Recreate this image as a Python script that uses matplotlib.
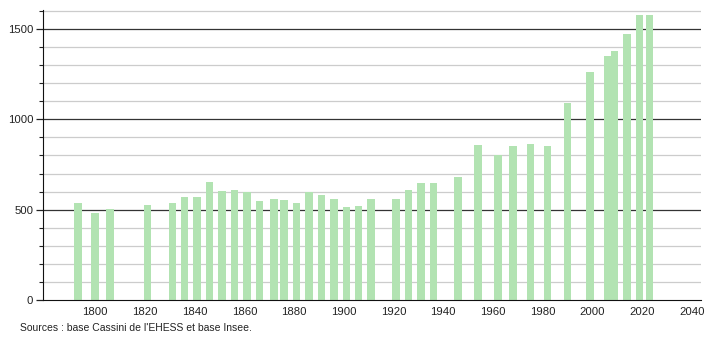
import matplotlib.pyplot as plt
from matplotlib.ticker import MultipleLocator

plt.rcParams['font.family'] = ['Liberation Sans', 'DejaVu Sans']

# Années de recensement et population
annees = [1793, 1800, 1806, 1821, 1831, 1836, 1841, 1846, 1851, 1856,
          1861, 1866, 1872, 1876, 1881, 1886, 1891, 1896, 1901, 1906,
          1911, 1921, 1926, 1931, 1936, 1946, 1954, 1962, 1968, 1975,
          1982, 1990, 1999, 2006, 2009, 2014, 2019, 2023]
population = [538, 483, 505, 526, 537, 572, 570, 653, 603, 610,
              599, 550, 557, 555, 539, 598, 581, 559, 515, 520,
              557, 559, 609, 646, 649, 681, 858, 801, 852, 863,
              852, 1088, 1263, 1350, 1378, 1472, 1577, 1577]

x_ticks = list(range(1800, 2041, 20))
source = "Sources : base Cassini de l'EHESS et base Insee."

fig = plt.figure(figsize=(7.1, 3.4), dpi=100)
ax = fig.add_axes([0.0606, 0.1176, 0.9264, 0.853])

ax.bar(annees, population, width=3.0, color='#b2e3b2', zorder=3)

ax.set_xlim(1779, 2043.6)
ax.set_ylim(0, 1605)

# grille : fine tous les 100, sombre tous les 500
for v in range(100, 1601, 100):
    if v % 500 == 0:
        ax.axhline(v, color='#333333', linewidth=0.9, zorder=1)
    else:
        ax.axhline(v, color='#cccccc', linewidth=0.9, zorder=1)

ax.yaxis.set_major_locator(MultipleLocator(500))
ax.yaxis.set_minor_locator(MultipleLocator(100))
ax.set_xticks(x_ticks)
ax.tick_params(axis='x', length=0, labelsize=8.2, pad=5, colors='#222222')
ax.tick_params(axis='y', which='major', length=5, width=0.9, labelsize=8.2,
               pad=2, colors='#222222')
ax.tick_params(axis='y', which='minor', length=3, width=0.8, colors='#222222')

for s in ['top', 'right']:
    ax.spines[s].set_visible(False)
ax.spines['left'].set_color('#111111')
ax.spines['bottom'].set_color('#111111')
ax.spines['left'].set_zorder(4)
ax.spines['bottom'].set_zorder(4)

fig.text(20 / 710, 1 - 328 / 340, source, fontsize=7.5, color='#222222',
         va='center', ha='left')

fig.savefig('out.png', dpi=100)
